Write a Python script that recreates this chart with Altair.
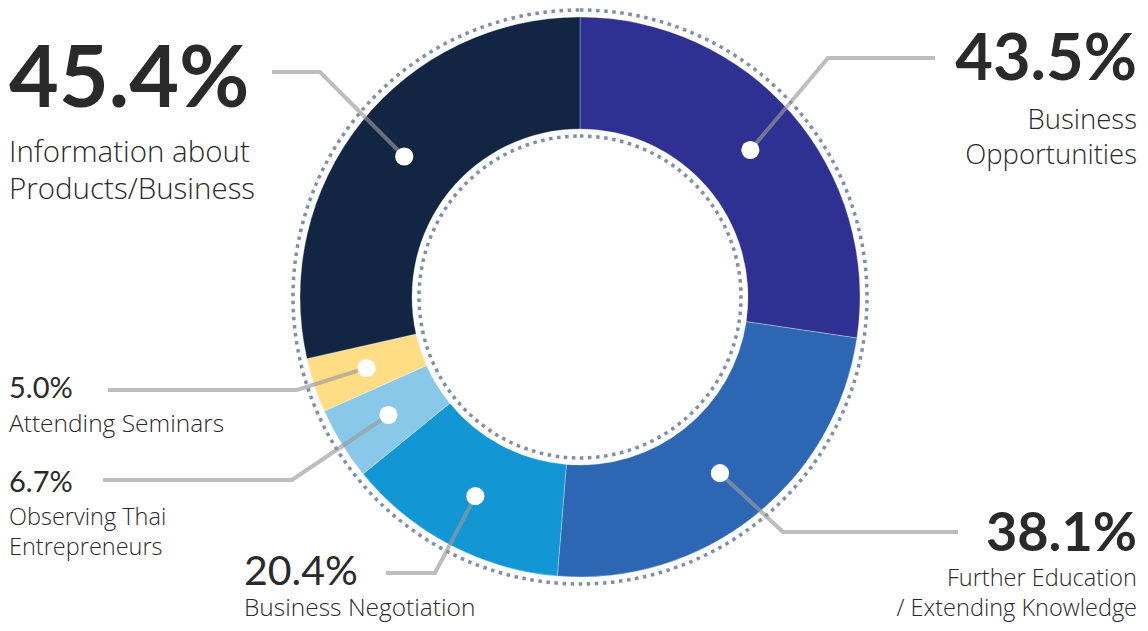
import math
import altair as alt
import pandas as pd

# ---------------- data ----------------
categories = [
    "Business Opportunities",
    "Further Education / Extending Knowledge",
    "Business Negotiation",
    "Observing Thai Entrepreneurs",
    "Attending Seminars",
    "Information about Products/Business",
]
values = [43.5, 38.1, 20.4, 6.7, 5.0, 45.4]
pct_labels = ["43.5%", "38.1%", "20.4%", "6.7%", "5.0%", "45.4%"]
name_lines = [
    ["Business", "Opportunities"],
    ["Further Education", "/ Extending Knowledge"],
    ["Business Negotiation"],
    ["Observing Thai", "Entrepreneurs"],
    ["Attending Seminars"],
    ["Information about", "Products/Business"],
]
colors = ["#2E3192", "#2D67B4", "#1296D4", "#89C8E8", "#FEDD84", "#122542"]

# ---------------- layout (page pixel coordinates) ----------------
W, H = 1132, 615
OFF = 8
CX, CY = 580, 297
R_OUT, R_IN, R_DOT = 280, 168, 225
RING_OUT, RING_IN = 287, 161
NUM_FONT = "Lato"
NAME_FONT = "Open Sans"
TXT = "#2a2a2a"

# leader bend and end points per category
bends = [(828, 58), (783, 532), (435, 573), (292, 480), (297, 390), (320, 72)]
ends = [(935, 58), (958, 532), (386, 573), (103, 480), (108, 390), (272, 72)]

# percent label: x, baseline, size, bold, align
pct_pos = [
    (1137, 80, 65, True, "right"),
    (1137, 551, 54, True, "right"),
    (244, 585, 41, False, "left"),
    (9, 492, 29, False, "left"),
    (9, 398, 29, False, "left"),
    (9, 107, 86, True, "left"),
]
# name label: x, first baseline, line step, size, align
name_pos = [
    (1137, 129, 35, 27.5, "right"),
    (1137, 586, 30, 23.5, "right"),
    (244, 616, 0, 24.5, "left"),
    (9, 525, 30, 23.5, "left"),
    (9, 432, 0, 24.5, "left"),
    (9, 162, 37, 29.5, "left"),
]

# ---------------- derived tables ----------------
total = sum(values)
donut = pd.DataFrame({"cat": categories, "value": values, "ord": list(range(len(values)))})

dots, lines = [], []
cum = 0.0
for i, (c, v) in enumerate(zip(categories, values)):
    mid = (cum + v / 2) / total * 2 * math.pi
    cum += v
    dx = CX + R_DOT * math.sin(mid)
    dy = CY - R_DOT * math.cos(mid)
    dots.append({"cat": c, "x": dx, "y": dy})
    for s, (px, py) in enumerate([(dx, dy), bends[i], ends[i]]):
        lines.append({"cat": c, "seq": s, "x": px, "y": py})
dots = pd.DataFrame(dots)
lines = pd.DataFrame(lines)

texts = []
for i in range(len(categories)):
    x, yb, fs, bold, al = pct_pos[i]
    texts.append({"t": pct_labels[i], "x": x, "y": yb, "fs": fs,
                  "kind": "num_bold" if bold else "num", "al": al})
    nx, ny, step, nfs, nal = name_pos[i]
    for k, ln in enumerate(name_lines[i]):
        texts.append({"t": ln, "x": nx, "y": ny + k * step, "fs": nfs, "kind": "name", "al": nal})
texts = pd.DataFrame(texts)

xs = alt.Scale(domain=[OFF, OFF + W], range=[0, W], nice=False, zero=False)
ys = alt.Scale(domain=[OFF, OFF + H], range=[0, H], nice=False, zero=False)

cxv = alt.value(CX - OFF)
cyv = alt.value(CY - OFF)


def ring(r):
    return alt.Chart(pd.DataFrame({"r": [r]})).mark_arc(
        theta=0, theta2=2 * math.pi, radius=r, radius2=0,
        fill="#ffffff", fillOpacity=0, stroke="#7F8EA8",
        strokeWidth=3.5, strokeDash=[3.5, 4.6],
    ).encode(x=cxv, y=cyv)


arcs = alt.Chart(donut).mark_arc(
    radius=R_OUT, radius2=R_IN, stroke="#ffffff", strokeWidth=0.6, strokeOpacity=0.5
).encode(
    x=cxv, y=cyv,
    theta=alt.Theta("value:Q", stack=True, scale=alt.Scale(range=[0, 2 * math.pi])),
    order=alt.Order("ord:Q"),
    color=alt.Color("cat:N", scale=alt.Scale(domain=categories, range=colors), legend=None),
)

leaders = alt.Chart(lines).mark_line(
    color="#9a9a9a", opacity=0.65, strokeWidth=4
).encode(
    x=alt.X("x:Q", scale=xs, axis=None),
    y=alt.Y("y:Q", scale=ys, axis=None),
    detail="cat:N",
    order="seq:Q",
)

dot_layer = alt.Chart(dots).mark_circle(color="#ffffff", opacity=1, size=330).encode(
    x=alt.X("x:Q", scale=xs, axis=None),
    y=alt.Y("y:Q", scale=ys, axis=None),
)

styles = {
    "num_bold": dict(font=NUM_FONT, fontWeight="bold"),
    "num": dict(font=NUM_FONT, fontWeight="normal"),
    "name": dict(font=NAME_FONT, fontWeight=300),
}
text_layers = []
for kind, st in styles.items():
    for al in ["left", "right"]:
        sub = texts[(texts.kind == kind) & (texts.al == al)]
        if len(sub) == 0:
            continue
        text_layers.append(
            alt.Chart(sub).mark_text(
                align=al, baseline="alphabetic", color=TXT, **st
            ).encode(
                x=alt.X("x:Q", scale=xs, axis=None),
                y=alt.Y("y:Q", scale=ys, axis=None),
                text="t:N",
                size=alt.Size("fs:Q", scale=None),
            )
        )

chart = alt.layer(ring(RING_OUT), ring(RING_IN), arcs, leaders, dot_layer, *text_layers).properties(
    width=W, height=H, padding=0,
    autosize=alt.AutoSizeParams(type="none"),
    background="#ffffff",
).configure_view(strokeWidth=0)

chart.save("out.html", embed_options={"renderer": "svg", "actions": False})
